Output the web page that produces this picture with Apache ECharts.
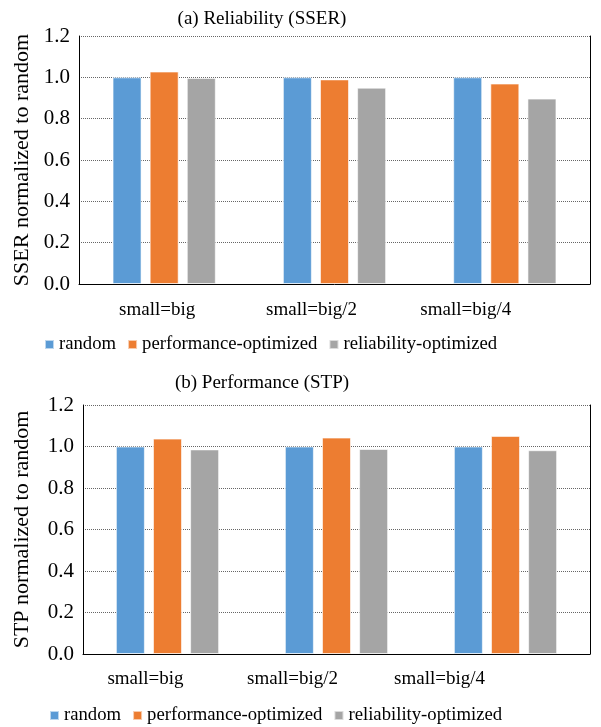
<!DOCTYPE html>
<html>
<head>
    <meta charset="utf-8">
    <title>SSER / STP</title>
    <script src="https://cdn.jsdelivr.net/npm/echarts@6/dist/echarts.min.js"></script>
    <style>
        html, body {margin: 0; padding: 0; background: #fff;}
        #main {width: 601px; height: 727px;}
    </style>
</head>
<body>
<div id="main"></div>

<script>
    // data
    var categories = ['small=big', 'small=big/2', 'small=big/4'];
    var seriesNames = ['random', 'performance-optimized', 'reliability-optimized'];
    var sserRandom = [1.0, 1.0, 1.0];
    var sserPerf = [1.028, 0.99, 0.97];
    var sserRel = [0.997, 0.95, 0.897];
    var stpRandom = [1.0, 1.0, 1.0];
    var stpPerf = [1.038, 1.043, 1.051];
    var stpRel = [0.986, 0.988, 0.982];
    var yMin = 0, yMax = 1.2, yStep = 0.2;

    var colors = ['#5B9BD5', '#ED7D31', '#A5A5A5'];
    var font = 'Liberation Serif';

    var myChart = echarts.init(document.getElementById('main'));

    // main value axis for a plot
    function valueAxis(grid, name, gap) {
        return {
            type: 'value', gridIndex: grid, min: yMin, max: yMax, interval: yStep,
            name: name, nameLocation: 'middle', nameGap: gap,
            nameTextStyle: {fontFamily: font, fontSize: 22, color: '#000'},
            axisLine: {show: true, lineStyle: {color: '#000', width: 1}},
            axisTick: {show: false},
            axisLabel: {
                margin: 9, color: '#000', fontFamily: font, fontSize: 21,
                formatter: function (v) { return v.toFixed(1); }
            },
            splitLine: {lineStyle: {color: '#666', type: 'dotted', width: 1}}
        };
    }
    // right frame line only
    function rightAxis(grid) {
        return {
            type: 'value', gridIndex: grid, position: 'right', min: yMin, max: yMax, interval: yStep,
            axisLine: {show: true, lineStyle: {color: '#000', width: 1}},
            axisTick: {show: false}, axisLabel: {show: false}, splitLine: {show: false}
        };
    }
    // hidden y axis for the label-only grids
    function hiddenY(grid) {
        return {type: 'value', gridIndex: grid, min: 0, max: 1, show: false};
    }
    function bar(name, data, xi, yi, c) {
        return {
            name: name, type: 'bar', xAxisIndex: xi, yAxisIndex: yi, data: data,
            barWidth: 29, barGap: '28%',
            itemStyle: {color: c, borderColor: 'rgba(255,255,255,0.6)', borderWidth: 1},
            silent: true
        };
    }
    function legendAt(top, left) {
        return {
            top: top, left: left, data: seriesNames, icon: 'rect',
            itemWidth: 9, itemHeight: 9, itemGap: 11,
            textStyle: {fontFamily: font, fontSize: 18.7, color: '#000'},
            selectedMode: false
        };
    }

    var option = {
        animation: false,
        color: colors,
        title: [
            {text: '(a) Reliability (SSER)', left: 257, top: 5, textAlign: 'center',
                textStyle: {fontFamily: font, fontSize: 19, fontWeight: 'normal', color: '#000'}},
            {text: '(b) Performance (STP)', left: 257, top: 369, textAlign: 'center',
                textStyle: {fontFamily: font, fontSize: 19, fontWeight: 'normal', color: '#000'}}
        ],
        legend: [legendAt(330, 39), legendAt(701, 44)],
        grid: [
            {left: 79, right: 11, top: 36, height: 248, outerBoundsMode: 'none'},
            {left: 83, right: 11, top: 405, height: 249, outerBoundsMode: 'none'},
            // label rows under each plot
            {left: 80, width: 463, top: 36, height: 248, outerBoundsMode: 'none'},
            {left: 72, width: 441, top: 405, height: 249, outerBoundsMode: 'none'}
        ],
        xAxis: [
            {type: 'category', gridIndex: 0, data: categories,
                axisLine: {lineStyle: {color: '#000'}}, axisTick: {show: false}, axisLabel: {show: false}},
            {type: 'category', gridIndex: 1, data: categories,
                axisLine: {lineStyle: {color: '#000'}}, axisTick: {show: false}, axisLabel: {show: false}},
            {type: 'category', gridIndex: 2, data: categories,
                axisLine: {show: false}, axisTick: {show: false},
                axisLabel: {margin: 17, color: '#000', fontFamily: font, fontSize: 19}},
            {type: 'category', gridIndex: 3, data: categories,
                axisLine: {show: false}, axisTick: {show: false},
                axisLabel: {margin: 16, color: '#000', fontFamily: font, fontSize: 19}}
        ],
        yAxis: [
            valueAxis(0, 'SSER normalized to random', 46),
            valueAxis(1, 'STP normalized to random', 50),
            rightAxis(0),
            rightAxis(1),
            hiddenY(2),
            hiddenY(3)
        ],
        series: [
            bar(seriesNames[0], sserRandom, 0, 0, colors[0]),
            bar(seriesNames[1], sserPerf, 0, 0, colors[1]),
            bar(seriesNames[2], sserRel, 0, 0, colors[2]),
            bar(seriesNames[0], stpRandom, 1, 1, colors[0]),
            bar(seriesNames[1], stpPerf, 1, 1, colors[1]),
            bar(seriesNames[2], stpRel, 1, 1, colors[2])
        ]
    };

    myChart.setOption(option);
</script>
</body>
</html>
